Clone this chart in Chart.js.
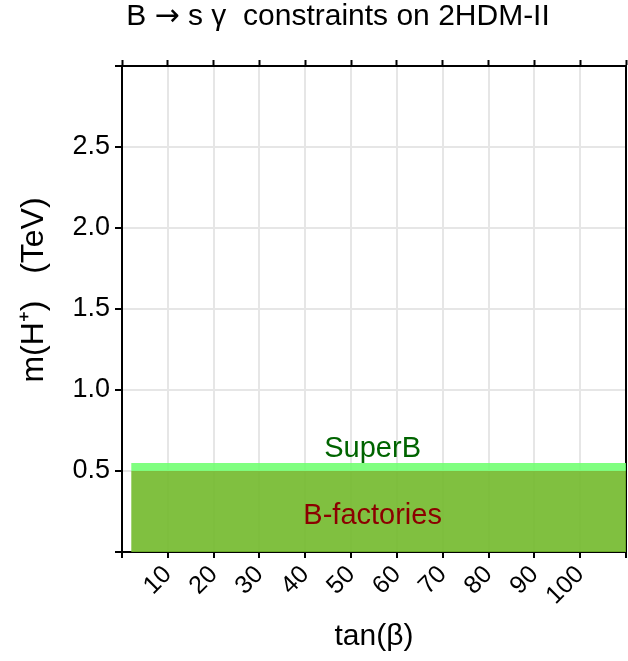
<!DOCTYPE html>
<html>
<head>
<meta charset="utf-8">
<script src="https://cdn.jsdelivr.net/npm/chart.js@4/dist/chart.umd.min.js"></script>
<style>
  html, body { margin: 0; padding: 0; background: #fff; }
  #box { width: 628px; height: 661px; }
</style>
</head>
<body>
<div id="box"><canvas id="bsgChart"></canvas></div>
<script>
// Dados
const tanBetaRange = [2, 110];          // extensão das bandas em tan(beta)
const bFactoriesLimit = [0.5, 0.5];     // m(H+) em TeV
const superBLimit = [0.55, 0.55];       // m(H+) em TeV
const xTicks = [10, 20, 30, 40, 50, 60, 70, 80, 90, 100];
const yTicks = [0.5, 1.0, 1.5, 2.0, 2.5];

const xTitle = 'tan(\u03B2)';
const yTitle = 'm(H\u207A)   (TeV)';

const FONT = '"Liberation Sans", Arial, Helvetica, sans-serif';
Chart.defaults.font.family = FONT;
Chart.defaults.color = '#000';

const pts = ys => tanBetaRange.map((x, i) => ({ x: x, y: ys[i] }));

// Textos desenhados à mão (título e nomes das regiões)
const textPlugin = {
    id: 'textos',
    afterDatasetsDraw(chart) {
        const { ctx, scales: { x, y } } = chart;
        const midX = x.getPixelForValue(54.7);
        ctx.save();
        ctx.textAlign = 'center';
        ctx.textBaseline = 'middle';
        ctx.font = '29px ' + FONT;
        ctx.fillStyle = '#006400';
        ctx.fillText('SuperB', midX, y.getPixelForValue(0.635));
        ctx.fillStyle = '#8b0000';
        ctx.fillText('B-factories', midX, y.getPixelForValue(0.225));
        ctx.restore();
    },
    afterDraw(chart) {
        const { ctx } = chart;
        ctx.save();
        ctx.fillStyle = '#000';
        ctx.textBaseline = 'alphabetic';
        // título em pedaços para a seta ficar longa
        const parts = [
            ['B ', '30px ' + FONT],
            ['\u2192', '30px "DejaVu Sans", sans-serif'],
            [' s \u03B3  constraints on 2HDM-II', '30px ' + FONT]
        ];
        let total = 0;
        parts.forEach(p => { ctx.font = p[1]; total += ctx.measureText(p[0]).width; });
        let tx = 338 - total / 2;
        parts.forEach(p => { ctx.font = p[1]; ctx.fillText(p[0], tx, 25); tx += ctx.measureText(p[0]).width; });

        ctx.textAlign = 'center';
        ctx.textBaseline = 'middle';
        ctx.font = '32px ' + FONT;
        ctx.translate(34, 290);
        ctx.rotate(-Math.PI / 2);
        ctx.fillText(yTitle, 0, 0);
        ctx.restore();
    }
};

const gridColor = ctx => (ctx.tick && yTicks.concat(xTicks).includes(ctx.tick.value)) ? '#e6e6e6' : 'rgba(0,0,0,0)';

const chartConfig = {
    type: 'scatter',
    data: {
        datasets: [{
            label: 'B-factories',
            data: pts(bFactoriesLimit),
            showLine: true,
            borderWidth: 0,
            pointRadius: 0,
            backgroundColor: 'rgba(114,185,43,0.9)',
            fill: 'origin'
        }, {
            label: 'SuperB',
            data: pts(superBLimit),
            showLine: true,
            borderWidth: 0,
            pointRadius: 0,
            backgroundColor: 'rgba(110,255,110,0.88)',
            fill: '-1'
        }]
    },
    options: {
        responsive: true,
        maintainAspectRatio: false,
        animation: false,
        layout: { padding: 0 },
        plugins: {
            legend: { display: false },
            tooltip: { enabled: false }
        },
        scales: {
            x: {
                type: 'linear',
                position: 'bottom',
                min: 0, max: 110,
                afterBuildTicks: s => { s.ticks = [0].concat(xTicks, [110]).map(v => ({ value: v })); },
                afterFit: s => { s.height = 109; s.paddingLeft = 0; s.paddingRight = 0; },
                ticks: {
                    font: { size: 25 },
                    autoSkip: false,
                    minRotation: 45, maxRotation: 45,
                    padding: 2,
                    callback: v => xTicks.includes(v) ? String(v) : ''
                },
                grid: { color: gridColor, lineWidth: 2, tickColor: '#000', tickWidth: 2, tickLength: 6 },
                border: { display: true, color: '#000', width: 2 },
                title: { display: true, text: xTitle, font: { size: 30 }, padding: { top: 0, bottom: 6 } }
            },
            xTop: {
                type: 'linear',
                position: 'top',
                min: 0, max: 110,
                afterBuildTicks: s => { s.ticks = [0].concat(xTicks, [110]).map(v => ({ value: v })); },
                afterFit: s => { s.height = 66; s.paddingLeft = 0; s.paddingRight = 0; },
                ticks: { display: false, autoSkip: false },
                grid: { drawOnChartArea: false, tickColor: '#000', tickWidth: 2, tickLength: 6 },
                border: { display: true, color: '#000', width: 2 }
            },
            y: {
                type: 'linear',
                position: 'left',
                min: 0, max: 3,
                afterBuildTicks: s => { s.ticks = [0].concat(yTicks, [3]).map(v => ({ value: v })); },
                afterFit: s => { s.width = 122; s.paddingTop = 0; s.paddingBottom = 0; },
                ticks: {
                    font: { size: 27 },
                    autoSkip: false,
                    padding: 5,
                    callback: v => yTicks.includes(v) ? v.toFixed(1) : ''
                },
                grid: { color: gridColor, lineWidth: 2, tickColor: '#000', tickWidth: 2, tickLength: 7 },
                border: { display: true, color: '#000', width: 2 }
            },
            yRight: {
                type: 'linear',
                position: 'right',
                min: 0, max: 3,
                afterFit: s => { s.width = 2; s.paddingTop = 0; s.paddingBottom = 0; },
                ticks: { display: false },
                grid: { drawOnChartArea: false, drawTicks: false },
                border: { display: true, color: '#000', width: 2 }
            }
        }
    },
    plugins: [textPlugin]
};

const bsgChart = new Chart(document.getElementById('bsgChart'), chartConfig);
</script>
</body>
</html>
